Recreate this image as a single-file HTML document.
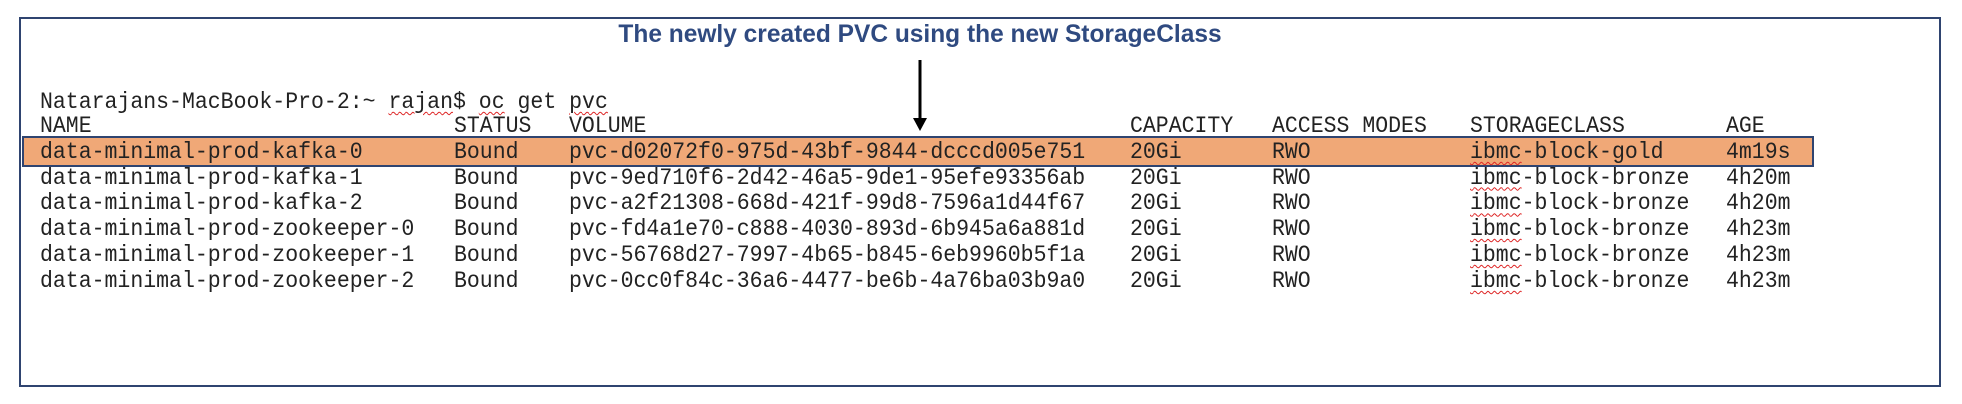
<!DOCTYPE html>
<html><head><meta charset="utf-8"><style>
body{margin:0;width:1962px;height:404px;background:#fff;position:relative;overflow:hidden}
.box{position:absolute;left:19px;top:17px;width:1922px;height:370px;border:2.5px solid #2f4470;box-sizing:border-box}
.t{position:absolute;left:0;width:1840px;text-align:center;top:20px;font:bold 25px "Liberation Sans",sans-serif;color:#2f4a80;transform:scaleX(0.98)}
.hl{position:absolute;left:22px;top:136px;width:1792px;height:31px;background:#f0a877;border:2.5px solid #2f4470;box-sizing:border-box}
.r{position:absolute;font:23px "Liberation Mono",monospace;color:#222;white-space:pre;line-height:26px;transform:scaleX(0.935);transform-origin:0 0}
.w{text-decoration:underline wavy #d22;text-decoration-thickness:1px;text-underline-offset:3px}
</style></head><body>
<div class="box"></div>
<div class="t">The newly created PVC using the new StorageClass</div>
<div class="hl"></div>
<svg style="position:absolute;left:0;top:0" width="1962" height="404">
<line x1="920" y1="60" x2="920" y2="120" stroke="#000" stroke-width="3"/>
<polygon points="913,118 927,118 920,131" fill="#000"/>
</svg>
<div class="r" style="left:40px;top:89px">Natarajans-MacBook-Pro-2:~ <span class="w">rajan</span>$ <span class="w">oc</span> get <span class="w">pvc</span></div>
<div class="r" style="left:40px;top:113px">NAME</div>
<div id="rows"></div>
<script>
const cols=[40,454,569,1130,1272,1470,1726];
const data=[
["NAME","STATUS","VOLUME","CAPACITY","ACCESS MODES","STORAGECLASS","AGE"],
["data-minimal-prod-kafka-0","Bound","pvc-d02072f0-975d-43bf-9844-dcccd005e751","20Gi","RWO","ibmc-block-gold","4m19s"],
["data-minimal-prod-kafka-1","Bound","pvc-9ed710f6-2d42-46a5-9de1-95efe93356ab","20Gi","RWO","ibmc-block-bronze","4h20m"],
["data-minimal-prod-kafka-2","Bound","pvc-a2f21308-668d-421f-99d8-7596a1d44f67","20Gi","RWO","ibmc-block-bronze","4h20m"],
["data-minimal-prod-zookeeper-0","Bound","pvc-fd4a1e70-c888-4030-893d-6b945a6a881d","20Gi","RWO","ibmc-block-bronze","4h23m"],
["data-minimal-prod-zookeeper-1","Bound","pvc-56768d27-7997-4b65-b845-6eb9960b5f1a","20Gi","RWO","ibmc-block-bronze","4h23m"],
["data-minimal-prod-zookeeper-2","Bound","pvc-0cc0f84c-36a6-4477-be6b-4a76ba03b9a0","20Gi","RWO","ibmc-block-bronze","4h23m"]];
let h="";
data.forEach((r,i)=>{const y=113+i*25.8;r.forEach((c,j)=>{if(i==0&&j==0)return;
let txt=c; if(j==5&&i>0) txt='<span class="w">ibmc</span>'+c.slice(4);
h+=`<div class="r" style="left:${cols[j]}px;top:${y}px">${txt}</div>`;});});
document.getElementById("rows").innerHTML=h;
</script>
</body></html>
